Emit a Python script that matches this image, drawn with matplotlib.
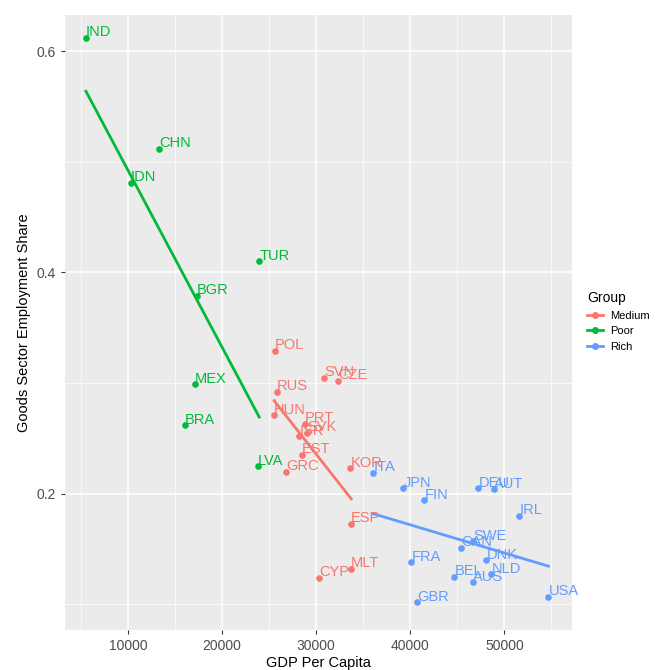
import matplotlib.pyplot as plt
import numpy as np
from matplotlib.lines import Line2D

plt.rcParams['font.family'] = ['Liberation Sans', 'DejaVu Sans']

countries = ["IND", "CHN", "IDN", "TUR", "BGR", "MEX", "BRA", "LVA",
             "POL", "SVN", "CZE", "RUS", "HUN", "PRT", "SVK", "ISR", "EST", "GRC", "KOR", "ESP", "MLT", "CYP",
             "ITA", "JPN", "FIN", "DEU", "AUT", "IRL", "SWE", "CAN", "DNK", "FRA", "BEL", "AUS", "NLD", "GBR", "USA"]
gdp = [5530, 13300, 10300, 23940, 17340, 17130, 16060, 23830,
       25640, 30850, 32340, 25850, 25530, 28830, 29040, 28190, 28510, 26810, 33620, 33720, 33720, 30320,
       36060, 39260, 41490, 47230, 48940, 51600, 46700, 45430, 48090, 40110, 44680, 46700, 48620, 40740, 54680]
share = [0.612, 0.512, 0.481, 0.410, 0.379, 0.299, 0.262, 0.225,
         0.329, 0.305, 0.302, 0.292, 0.271, 0.263, 0.255, 0.252, 0.235, 0.220, 0.223, 0.173, 0.132, 0.124,
         0.219, 0.205, 0.194, 0.205, 0.204, 0.180, 0.157, 0.151, 0.140, 0.138, 0.125, 0.120, 0.127, 0.102, 0.107]
group = ["Poor"] * 8 + ["Medium"] * 14 + ["Rich"] * 15
colors = {"Medium": "#F8766D", "Poor": "#00BA38", "Rich": "#619CFF"}

fig = plt.figure(figsize=(6.63, 6.7), dpi=100)
ax = fig.add_axes([0.098, 0.06, 0.765, 0.918])
ax.set_facecolor("#EBEBEB")
for s in ax.spines.values():
    s.set_visible(False)

gdp = np.array(gdp)
share = np.array(share)
group = np.array(group)
for g, c in colors.items():
    m = group == g
    ax.scatter(gdp[m], share[m], s=14, color=c, zorder=3)
    k, b = np.polyfit(gdp[m], share[m], 1)
    xs = np.array([gdp[m].min(), gdp[m].max()])
    ax.plot(xs, k * xs + b, color=c, lw=2, zorder=3)
for name, x, y, g in zip(countries, gdp, share, group):
    ax.annotate(name, (x, y), xytext=(0, 4), textcoords="offset points",
                color=colors[g], fontsize=10.5, ha="left", va="center", zorder=4)

ax.set_xlim(3300, 57200)
ax.set_ylim(0.077, 0.633)
ax.set_xticks([10000, 20000, 30000, 40000, 50000])
ax.set_yticks([0.2, 0.4, 0.6])
ax.set_xticks([5000, 15000, 25000, 35000, 45000, 55000], minor=True)
ax.set_yticks([0.1, 0.3, 0.5], minor=True)
ax.grid(which="major", color="white", lw=1.1)
ax.grid(which="minor", color="white", lw=0.5)
ax.set_axisbelow(True)
ax.tick_params(which="both", length=3, color="#333333", labelsize=10, labelcolor="#4D4D4D")
ax.tick_params(which="minor", length=0)
ax.set_xlabel("GDP Per Capita", fontsize=10.5, labelpad=2)
ax.set_ylabel("Goods Sector Employment Share", fontsize=10.5)

handles = [Line2D([0], [0], color=c, lw=2, marker="o", markersize=4) for c in colors.values()]
leg = fig.legend(handles, list(colors.keys()), title="Group", loc="center left",
                 bbox_to_anchor=(0.87, 0.52), frameon=False, fontsize=8, title_fontsize=10,
                 handlelength=1.5, handletextpad=0.6)
leg._legend_box.align = "left"

fig.savefig("out.png")
